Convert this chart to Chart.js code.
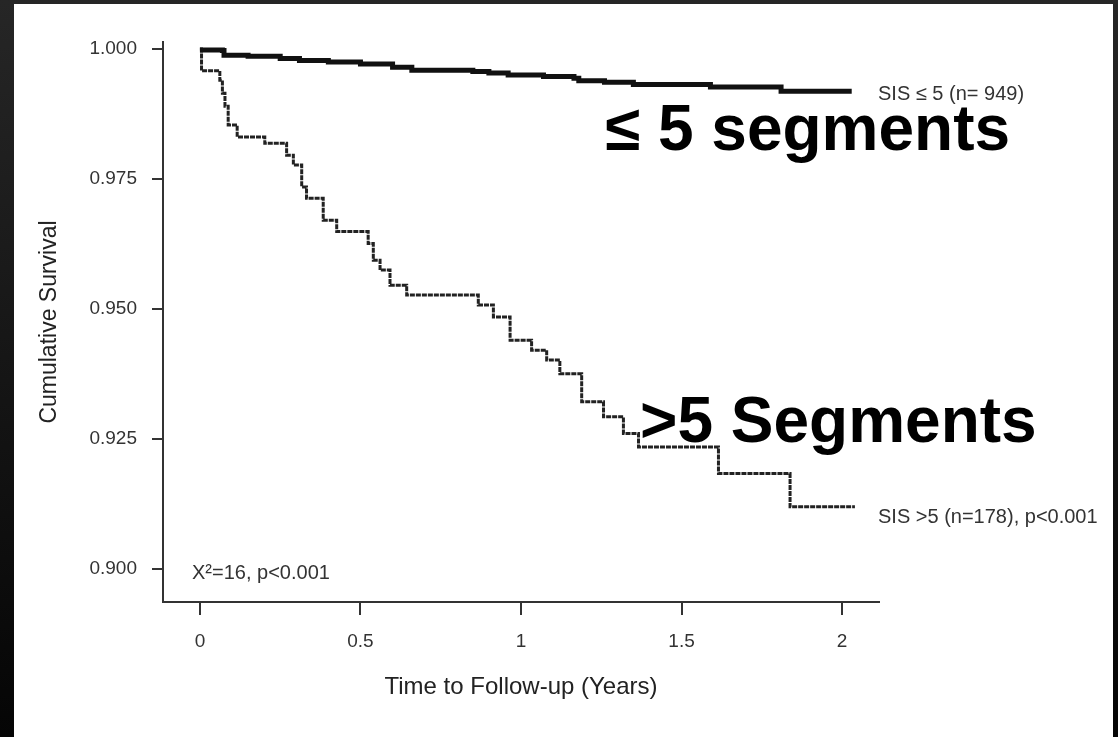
<!DOCTYPE html>
<html>
<head>
<meta charset="utf-8">
<script src="https://cdn.jsdelivr.net/npm/chart.js@4.4.0/dist/chart.umd.min.js"></script>
<style>
  html, body { margin: 0; padding: 0; }
  body { width: 1118px; height: 737px; overflow: hidden; position: relative;
         background: linear-gradient(#262626, #050505); }
  #paper { position: absolute; left: 14px; top: 4px; width: 1099px; height: 733px; background: #fff; }
  #chart { position: absolute; left: 0; top: 0; }
</style>
</head>
<body>
<div id="paper"></div>
<canvas id="chart" width="1118" height="737"></canvas>
<script>
// axis ticks
const xTickValues = [0, 0.5, 1, 1.5, 2];
const xTickLabels = ['0', '0.5', '1', '1.5', '2'];
const yTickValues = [0.9, 0.925, 0.95, 0.975, 1.0];
const yTickLabels = ['0.900', '0.925', '0.950', '0.975', '1.000'];

// SIS <= 5 (n=949)
const lowTimes = [0, 0.07, 0.075, 0.15, 0.25, 0.31, 0.40, 0.50, 0.60, 0.66, 0.85, 0.90, 0.96, 1.07, 1.165, 1.18,
  1.26, 1.35, 1.59, 1.81, 2.03];
const lowSurvival = [0.9998, 0.9997, 0.9988, 0.9986, 0.9982, 0.9978, 0.9975, 0.9971, 0.9965, 0.9959, 0.9957, 0.9954,
  0.9950, 0.9947, 0.9944, 0.9939, 0.9936, 0.9932, 0.9927, 0.9919, 0.9919];

// SIS > 5 (n=178)
const highTimes = [0, 0.005, 0.062, 0.070, 0.078, 0.088, 0.116, 0.202, 0.270, 0.291, 0.317, 0.332, 0.384, 0.426,
  0.524, 0.540, 0.561, 0.592, 0.644, 0.867, 0.914, 0.966, 1.033, 1.080, 1.121, 1.189, 1.257, 1.319, 1.366,
  1.615, 1.838, 2.040];
const highSurvival = [1.000, 0.9958, 0.9940, 0.9915, 0.9890, 0.9854, 0.9831, 0.9819, 0.9796, 0.9777, 0.9735, 0.9713, 0.9671, 0.9649,
  0.9626, 0.9594, 0.9575, 0.9546, 0.9527, 0.9508, 0.9485, 0.9440, 0.9421, 0.9402, 0.9376, 0.9322, 0.9293, 0.9261, 0.9235,
  0.9184, 0.9120, 0.9120];

const toPoints = (xs, ys) => xs.map((x, i) => ({ x: x, y: ys[i] }));
const font = "'Liberation Sans', Arial, Helvetica, sans-serif";

// text written on the figure
const notes = [
  { text: 'SIS \u2264 5 (n= 949)', x: 878, y: 94, size: 20, bold: false, color: '#333' },
  { text: '\u2264 5 segments', x: 605, y: 150, size: 64, bold: true, color: '#000', base: 'alphabetic' },
  { text: '>5 Segments', x: 640, y: 442, size: 64, bold: true, color: '#000', base: 'alphabetic' },
  { text: 'SIS >5 (n=178), p<0.001', x: 878, y: 517, size: 20, bold: false, color: '#333' },
  { text: 'X\u00B2=16, p<0.001', x: 192, y: 573, size: 20, bold: false, color: '#333' }
];

const notePlugin = {
  id: 'notes',
  afterDraw(chart) {
    const ctx = chart.ctx;
    ctx.save();
    notes.forEach(n => {
      ctx.font = (n.bold ? 'bold ' : '') + n.size + 'px ' + font;
      ctx.fillStyle = n.color;
      ctx.textAlign = 'left';
      ctx.textBaseline = n.base || 'middle';
      ctx.fillText(n.text, n.x, n.y);
    });
    ctx.restore();
  }
};

new Chart(document.getElementById('chart'), {
  type: 'line',
  data: {
    datasets: [
      {
        label: 'SIS <= 5',
        data: toPoints(lowTimes, lowSurvival),
        stepped: 'before',
        borderColor: '#111',
        borderWidth: 5,
        pointRadius: 0
      },
      {
        label: 'SIS > 5',
        data: toPoints(highTimes, highSurvival),
        stepped: 'before',
        borderColor: '#222',
        borderWidth: 3,
        borderDash: [5, 1],
        pointRadius: 0
      }
    ]
  },
  options: {
    responsive: false,
    animation: false,
    devicePixelRatio: 1,
    layout: { padding: { left: 0, right: 239, top: 42, bottom: 0 } },
    plugins: { legend: { display: false }, tooltip: { enabled: false } },
    scales: {
      x: {
        type: 'linear',
        min: -0.115,
        max: 2.115,
        afterFit: s => { s.height = 135; },
        afterBuildTicks: s => { s.ticks = xTickValues.map(v => ({ value: v })); },
        ticks: {
          callback: (v) => xTickLabels[xTickValues.indexOf(v)],
          font: { family: font, size: 19 },
          color: '#333',
          padding: 15,
          maxRotation: 0
        },
        grid: { drawOnChartArea: false, drawTicks: true, tickLength: 13, color: '#333', lineWidth: 2 },
        border: { display: true, color: '#333', width: 2 },
        title: {
          display: true,
          text: 'Time to Follow-up (Years)',
          font: { family: font, size: 24 },
          color: '#222',
          padding: { top: 0, bottom: 35 }
        }
      },
      y: {
        min: 0.8937,
        max: 1.00135,
        afterFit: s => { s.width = 163; },
        afterBuildTicks: s => { s.ticks = yTickValues.map(v => ({ value: v })); },
        ticks: {
          callback: (v) => yTickLabels[yTickValues.indexOf(v)],
          font: { family: font, size: 19 },
          color: '#333',
          padding: 15
        },
        grid: { drawOnChartArea: false, drawTicks: true, tickLength: 11, color: '#333', lineWidth: 2 },
        border: { display: true, color: '#333', width: 2 },
        title: {
          display: true,
          text: 'Cumulative Survival',
          font: { family: font, size: 23 },
          color: '#222',
          padding: { top: 36, bottom: 0 }
        }
      }
    }
  },
  plugins: [notePlugin]
});
</script>
</body>
</html>
